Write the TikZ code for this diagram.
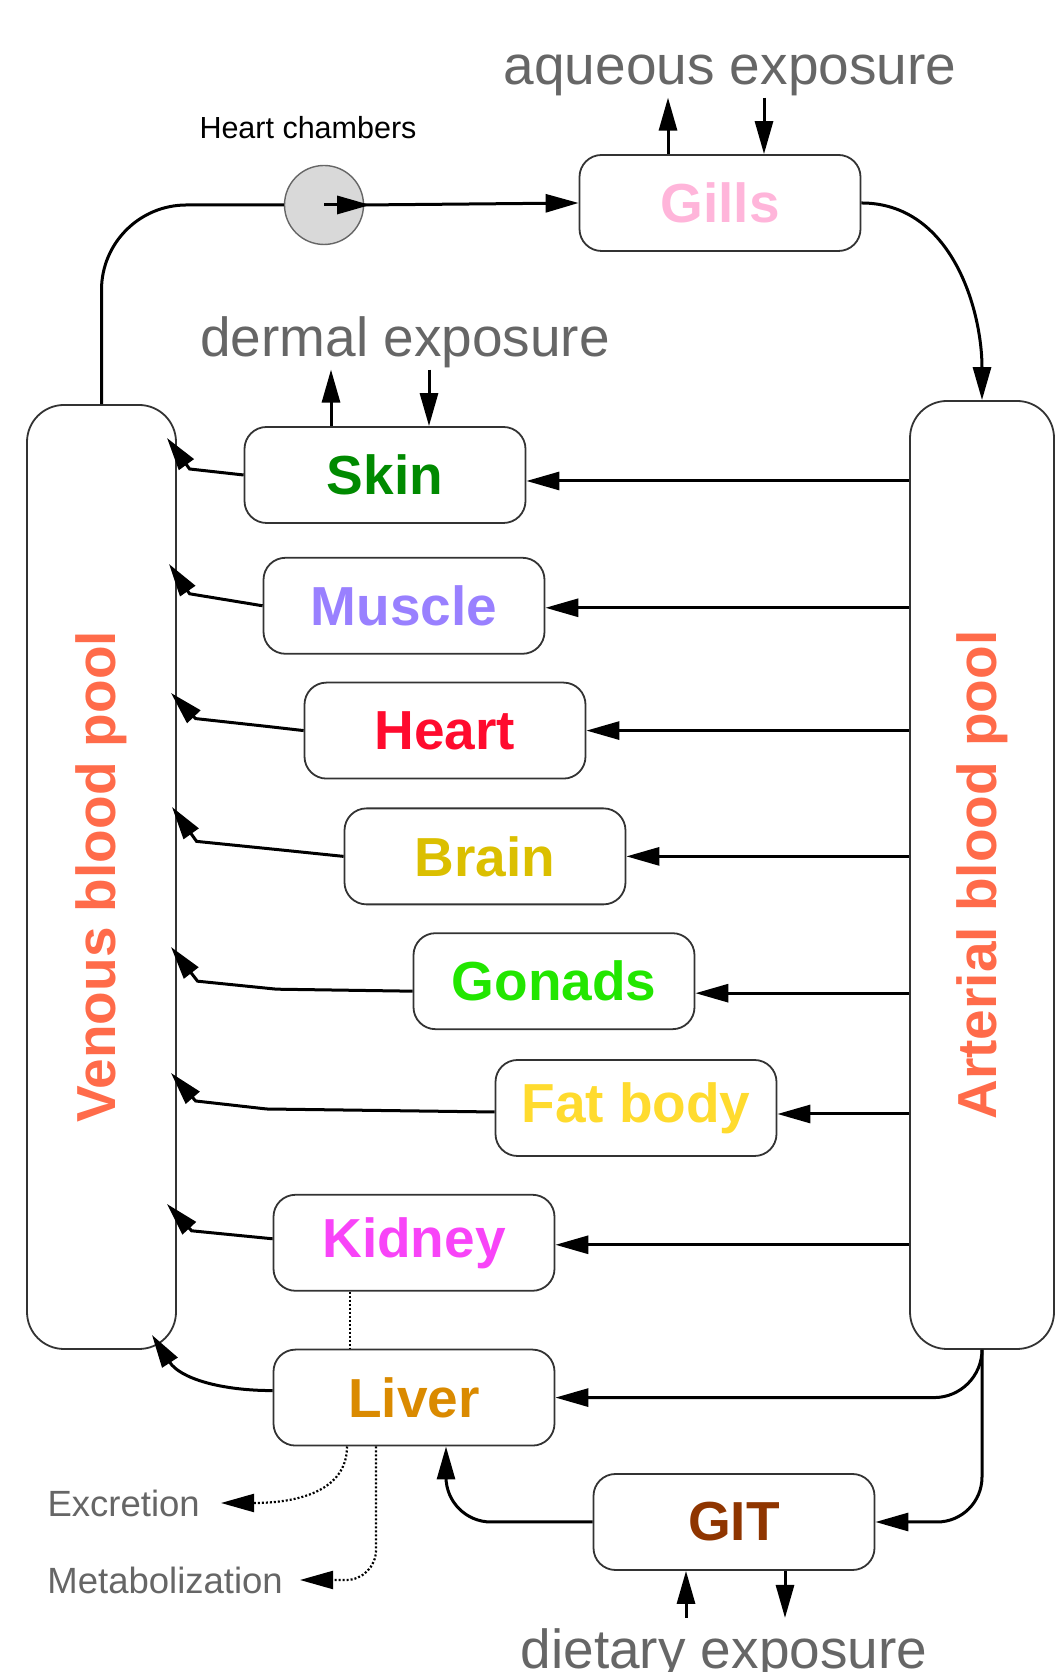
\documentclass[tikz,border=0pt]{standalone}
\usepackage{fontspec}
\setmainfont{Liberation Sans}
\usetikzlibrary{arrows.meta, positioning}

\definecolor{poolred}{HTML}{FF6B4A}
\definecolor{gillsc}{HTML}{FFB5DA}
\definecolor{skinc}{HTML}{008A00}
\definecolor{musclec}{HTML}{9980FF}
\definecolor{heartc}{HTML}{FF0B2E}
\definecolor{brainc}{HTML}{DBBF00}
\definecolor{gonadsc}{HTML}{22E600}
\definecolor{fatc}{HTML}{FFDB2E}
\definecolor{kidneyc}{HTML}{F844F8}
\definecolor{liverc}{HTML}{DA8A00}
\definecolor{gitc}{HTML}{8F3500}
\definecolor{labelgray}{HTML}{666666}

\begin{document}
\begin{tikzpicture}[x=1pt, y=1pt,
    organ/.style={rectangle, rounded corners=22pt, draw=black!80, line width=1.8pt, minimum width=281pt, minimum height=96pt, font=\fontsize{55}{60}\selectfont\bfseries},
    pool/.style={rectangle, rounded corners=37pt, draw=black!80, line width=1.8pt},
    poollabel/.style={rotate=90, text=poolred, font=\fontsize{55}{60}\selectfont\bfseries},
    exposure/.style={text=labelgray, font=\fontsize{55}{60}\selectfont, inner sep=1pt},
    route/.style={text=labelgray, font=\fontsize{36.5}{40}\selectfont, inner sep=0pt},
    arrow/.style={-{Triangle[length=33pt,width=18pt]}, line width=3pt},
    dotarrow/.style={arrow, line width=2.2pt, dash pattern=on 2pt off 2pt},
    dotline/.style={line width=2pt, dash pattern=on 2pt off 2pt}
]
\useasboundingbox (0,0) rectangle (1056,1672);

% blood pools
\node[pool, minimum width=149pt, minimum height=944pt] (venous) at (101.5,795) {};
\node[pool, minimum width=144pt, minimum height=948pt] (arterial) at (982,797) {};
\node[poollabel] (venouslabel) at (venous.center) {Venous blood pool};
\node[poollabel] (arteriallabel) at (arterial.center) {Arterial blood pool};

% heart chambers and gills
\node[circle, draw=labelgray, fill=black!15, line width=1.4pt, minimum size=79pt] (hc) at (324,1467) {};
\node[above=22pt of hc, xshift=-16pt, font=\fontsize{30.5}{34}\selectfont] (hclabel) {Heart chambers};
\node[organ, text=gillsc] (gills) at (720,1469) {Gills};

% organs
\node[organ, text=skinc] (skin) at (385,1197) {Skin};
\node[organ, text=musclec, below=33pt of skin, xshift=19pt] (muscle) {Muscle};
\node[organ, text=heartc, below=27pt of muscle, xshift=41pt] (heart) {Heart};
\node[organ, text=brainc, below=28pt of heart, xshift=40pt] (brain) {Brain};
\node[organ, text=gonadsc, below=27pt of brain, xshift=69pt] (gonads) {Gonads};
\node[organ, text=fatc, below=29pt of gonads, xshift=82pt] (fat) {Fat body};
\node[organ, text=kidneyc, below=37pt of fat, xshift=-222pt] (kidney) {Kidney};
\node[organ, text=liverc, below=57pt of kidney] (liver) {Liver};
\node[organ, text=gitc] (git) at (734,150) {GIT};

% exposure and elimination labels
\node[exposure, anchor=base] (aqueous) at (730,1587) {aqueous exposure};
\node[exposure, anchor=base] (dermal) at (405,1315) {dermal exposure};
\node[exposure, anchor=base] (dietary) at (724,3) {dietary exposure};
\node[route, anchor=east] (excretion) at (200,169) {Excretion};
\node[route, anchor=east] (metab) at (283,92) {Metabolization};

% exchange points
\coordinate (gills-out) at ([xshift=-52pt]gills.north);
\coordinate (gills-in) at ([xshift=44pt]gills.north);
\coordinate (skin-out) at ([xshift=-54pt]skin.north);
\coordinate (skin-in) at ([xshift=44pt]skin.north);
\coordinate (git-in) at ([xshift=-48pt]git.south);
\coordinate (git-out) at ([xshift=51pt]git.south);

% venous return points
\coordinate (v-skin) at (167,1234);
\coordinate (v-muscle) at (169,1108);
\coordinate (v-heart) at (171,979);
\coordinate (v-brain) at (172,865);
\coordinate (v-gonads) at (171,725);
\coordinate (v-fat) at (171,599);
\coordinate (v-kidney) at (167,468);
\coordinate (v-liver) at (152,337);

% circulation
\draw[line width=3pt, rounded corners=85pt] (venous.north) |- (hc.west);
\draw[arrow, shorten >=-6pt] (hc.center) -- (hc.east);
\draw[arrow] (hc.east) -- (gills.west);
\draw[arrow] (gills.east) to[out=0, in=90] (arterial.north);

\draw[arrow] ([yshift=-6pt]arterial.west |- skin.east) -- ([yshift=-6pt]skin.east);
\draw[arrow] ([yshift=-2pt]arterial.west |- muscle.east) -- ([yshift=-2pt]muscle.east);
\draw[arrow] (arterial.west |- heart.east) -- (heart.east);
\draw[arrow] (arterial.west |- brain.east) -- (brain.east);
\draw[arrow] ([yshift=-12pt]arterial.west |- gonads.east) -- ([yshift=-12pt]gonads.east);
\draw[arrow] ([yshift=-6pt]arterial.west |- fat.east) -- ([yshift=-6pt]fat.east);
\draw[arrow] ([yshift=-2pt]arterial.west |- kidney.east) -- ([yshift=-2pt]kidney.east);
\draw[arrow, rounded corners=48pt] (arterial.south) |- (liver.east);
\draw[arrow, rounded corners=45pt] (arterial.south) |- (git.east);
\draw[arrow, rounded corners=45pt] (git.west) -| ([xshift=32pt]liver.south);

\draw[arrow] (skin.west) -- ++(-54,6) -- (v-skin);
\draw[arrow] (muscle.west) -- ++(-73,12) -- (v-muscle);
\draw[arrow] (heart.west) -- ++(-35,4) -- ++(-73,8) -- (v-heart);
\draw[arrow] (brain.west) -- ++(-68,7) -- ++(-79,8) -- (v-brain);
\draw[arrow] ([yshift=-10pt]gonads.west) -- ++(-136,2) -- ++(-79,8) -- (v-gonads);
\draw[arrow] ([yshift=-4pt]fat.west) -- ++(-228,3) -- ++(-71,8) -- (v-fat);
\draw[arrow] ([yshift=4pt]kidney.west) -- ++(-81,8) -- (v-kidney);
\draw[arrow] ([yshift=7pt]liver.west) to[out=180, in=-57] (v-liver);

% exposure routes
\draw[arrow] (gills-out) -- (gills-out |- aqueous.south);
\draw[arrow] (gills-in |- aqueous.south) -- (gills-in);
\draw[arrow] (skin-out) -- (skin-out |- dermal.south);
\draw[arrow] (skin-in |- dermal.south) -- (skin-in);
\draw[arrow, shorten <=10pt] (git-in |- dietary.north) -- (git-in);
\draw[arrow, shorten >=10pt] (git-out) -- (git-out |- dietary.north);

% hepatic elimination
\draw[dotline] ([xshift=-64pt]kidney.south) -- ([xshift=-64pt]liver.north);
\draw[dotarrow] ([xshift=-67pt]liver.south) to[out=-90, in=0] ([xshift=21pt]excretion.east);
\draw[dotarrow, rounded corners=30pt] ([xshift=-38pt]liver.south) |- ([xshift=17pt]metab.east);

\end{tikzpicture}
\end{document}
